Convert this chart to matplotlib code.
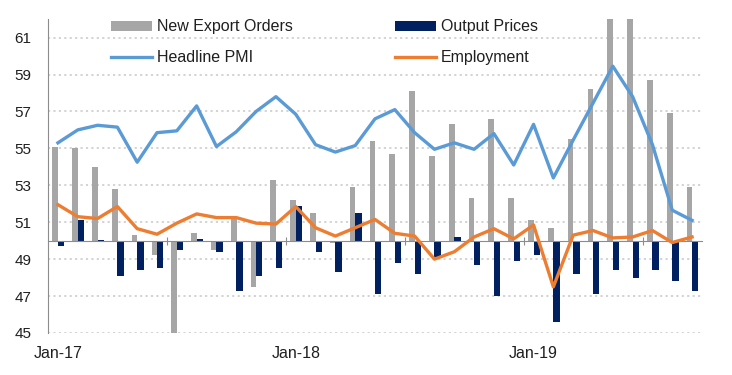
import numpy as np
import matplotlib
matplotlib.use("Agg")
import matplotlib.pyplot as plt

plt.rcParams["font.family"] = ["Liberation Sans", "DejaVu Sans"]

# Monthly, Jan-17 .. Sep-19
months = ["Jan-17", "Feb-17", "Mar-17", "Apr-17", "May-17", "Jun-17", "Jul-17", "Aug-17",
          "Sep-17", "Oct-17", "Nov-17", "Dec-17", "Jan-18", "Feb-18", "Mar-18", "Apr-18",
          "May-18", "Jun-18", "Jul-18", "Aug-18", "Sep-18", "Oct-18", "Nov-18", "Dec-18",
          "Jan-19", "Feb-19", "Mar-19", "Apr-19", "May-19", "Jun-19", "Jul-19", "Aug-19",
          "Sep-19"]
export_orders = [55.1, 55.0, 54.0, 52.8, 50.3, 49.2, 45.0, 50.4, 49.5, 51.2, 47.5, 53.3,
                 52.2, 51.5, 49.9, 52.9, 55.4, 54.7, 58.1, 54.6, 56.3, 52.3, 56.6, 52.3,
                 51.1, 50.7, 55.5, 58.2, 62.6, 62.6, 58.7, 56.9, 52.9]
output_prices = [49.7, 51.1, 50.05, 48.1, 48.4, 48.5, 49.5, 50.1, 49.4, 47.3, 48.1, 48.5,
                 51.9, 49.4, 48.3, 51.5, 47.1, 48.8, 48.2, 49.1, 50.2, 48.7, 47.0, 48.9,
                 49.2, 45.6, 48.2, 47.1, 48.4, 48.0, 48.4, 47.8, 47.3]
headline_pmi = [55.3, 56.0, 56.25, 56.15, 54.25, 55.85, 55.95, 57.3, 55.1, 55.9, 57.0, 57.8,
                56.85, 55.2, 54.8, 55.15, 56.6, 57.1, 55.85, 54.95, 55.3, 54.95, 55.8, 54.1,
                56.3, 53.4, 55.45, 57.45, 59.45, 57.8, 55.2, 51.65, 51.1]
employment = [51.95, 51.3, 51.2, 51.85, 50.65, 50.35, 50.95, 51.45, 51.25, 51.25, 50.95, 50.9,
              51.85, 50.7, 50.25, 50.7, 51.15, 50.4, 50.25, 49.0, 49.4, 50.2, 50.65, 50.1,
              50.85, 47.5, 50.3, 50.55, 50.15, 50.2, 50.55, 49.9, 50.2]
tick_labels = ["Jan-17", "Jan-18", "Jan-19"]

GREY = "#A6A6A6"
NAVY = "#002060"
BLUE = "#5B9BD5"
ORANGE = "#ED7D31"
TEXT = "#1F1F1F"

x = np.arange(len(months))
base = 50

fig = plt.figure(figsize=(7.32, 3.75), dpi=100)
ax = fig.add_axes([0.0656, 0.112, 0.8934, 0.837])

ax.bar(x - 0.13, np.array(export_orders) - base, bottom=base, width=0.29,
       color=GREY, label="New Export Orders", zorder=2)
ax.bar(x + 0.16, np.array(output_prices) - base, bottom=base, width=0.32,
       color=NAVY, label="Output Prices", zorder=2)
ax.plot(x, headline_pmi, color=BLUE, lw=2.4, label="Headline PMI", zorder=4)
ax.plot(x, employment, color=ORANGE, lw=2.4, label="Employment", zorder=4)

ax.set_ylim(45, 62)
ax.set_xlim(-0.5, len(months) - 0.5)
ax.set_yticks(np.arange(45, 62, 2))
ax.yaxis.grid(True, color="#D0D0D0", linestyle=(0, (1.2, 1.8)), lw=1.3, zorder=0)
ax.set_axisbelow(True)
ax.tick_params(axis="y", length=0, pad=12, labelsize=11, labelcolor=TEXT)

for s in ["top", "right"]:
    ax.spines[s].set_visible(False)
ax.spines["left"].set_color("#8C8C8C")
ax.spines["bottom"].set_color("#8C8C8C")
ax.spines["bottom"].set_position(("data", base))
ax.spines["bottom"].set_zorder(3)

# tick marks on the 50 line every 6 months, no labels there
ax.set_xticks(np.arange(5.5, len(months), 6))
ax.tick_params(axis="x", direction="inout", length=6, color="#8C8C8C", labelbottom=False)

sec = ax.secondary_xaxis("bottom")
sec.set_xticks([months.index(t) for t in tick_labels], tick_labels)
sec.tick_params(length=0, pad=9, labelsize=11.5, labelcolor=TEXT)
sec.spines["bottom"].set_visible(False)

# legend filled column-wise: bars in row 1, lines in row 2
h, l = ax.get_legend_handles_labels()
by_label = dict(zip(l, h))
leg_order = ["New Export Orders", "Headline PMI", "Output Prices", "Employment"]
ax.legend([by_label[k] for k in leg_order], leg_order, ncol=2, frameon=False,
          loc="upper left", bbox_to_anchor=(0.075, 1.045), fontsize=11.5,
          handlelength=2.55, handleheight=0.55, handletextpad=0.3,
          columnspacing=6.4, labelspacing=1.0, labelcolor=TEXT)

fig.savefig("out.png", dpi=100)
